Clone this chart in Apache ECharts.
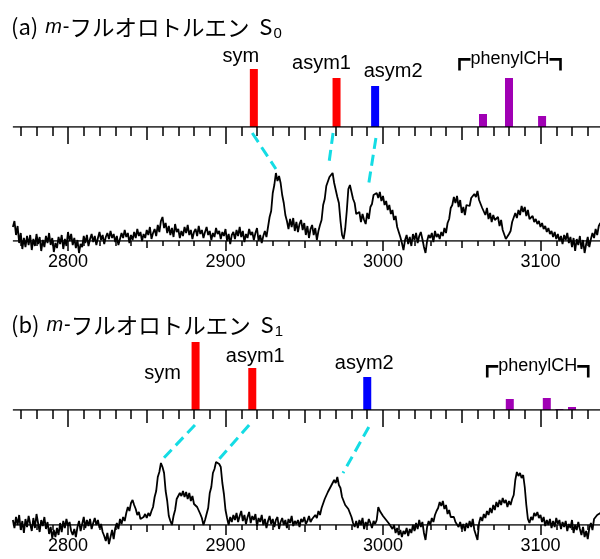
<!DOCTYPE html>
<html>
<head>
<meta charset="utf-8">
<script src="https://cdn.jsdelivr.net/npm/echarts@6/dist/echarts.min.js"></script>
<style>
html, body { margin: 0; padding: 0; background: #fff; }
#myChart { width: 600px; height: 559px; }
</style>
</head>
<body>
<div id="myChart"></div>
<script>
// wavenumber axis (cm-1), same for all four strips
const axisMin = 2700
const axisMax = 3200
const lineStart = 2765
const firstMinorTick = 2770
const specStart = 2765 // spectra below start here, one value per cm-1

// (a) S0 calculated sticks
const sticksAPos = [2918, 2970.5, 2995, 3063.5, 3080, 3101]
const sticksAInt = [58, 49, 41, 13, 49, 11]
const sticksAKind = ['sym', 'asym1', 'asym2', 'ph', 'ph', 'ph']
// (b) S1 calculated sticks
const sticksBPos = [2881, 2917, 2990, 3080.5, 3104, 3112, 3120]
const sticksBInt = [68, 42, 33, 11, 12, 1, 3]
const sticksBKind = ['sym', 'asym1', 'asym2', 'ph', 'ph', 'ph', 'ph']

// observed spectra (a) S0 and (b) S1, from 2765 cm-1
const specA = [
  14, 20, 6, 15, -2, 8, -8, 3, -6, 5,
  -4, 6, -9, 2, -5, 7, -3, 4, -10, 1,
  -6, 5, -2, 8, -4, 3, -11, -2, -7, 4,
  -3, 6, -8, 2, -5, 9, 0, 7, -4, 3,
  -7, 1, -12, -3, -6, 5, -2, 6, -5, 2,
  7, -1, 5, -4, 3, 9, 1, 6, -3, 4,
  8, 2, 10, 3, 7, -1, 5, -4, 2, 8,
  3, 11, 4, 8, -2, 6, 1, 9, 3, 12,
  5, 9, 0, 7, 3, 11, 6, 14, 2, 8,
  12, 5, 16, 9, 20, 24, 13, 18, 8, 15,
  6, 13, 4, 17, 9, 12, 3, 10, 5, 14,
  8, 16, 6, 11, 2, 9, 12, 5, 15, 7,
  11, 3, 9, 14, 6, 10, 1, 8, 4, 13,
  7, 10, 2, 9, 5, 12, 0, 7, -3, 6,
  9, 2, 11, 5, 14, 4, 10, -1, 7, 3,
  12, 6, 9, 1, 8, 13, 0, 6, -2, 5,
  10, 4, 14, 24, 30, 48, 56, 68, 60, 65,
  58, 46, 38, 26, 20, 12, 22, 14, 23, 10,
  19, 9, 17, 21, 11, 18, 6, 15, 3, 12,
  16, 6, 13, 1, 10, 16, 21, 36, 42, 55,
  57, 64, 62, 68, 58, 60, 44, 38, 20, 6,
  2, 12, 30, 52, 56, 58, 42, 38, 27, 26,
  29, 19, 27, 21, 17, 28, 22, 34, 37, 46,
  44, 48, 43, 49, 40, 45, 36, 40, 31, 36,
  27, 31, 21, 25, 14, 13, 4, -2, -9, 1,
  6, -3, 4, -5, 7, 1, 8, -2, 5, 9,
  2, -6, -12, 0, 6, 3, 8, -1, 10, 4,
  7, 2, 9, 5, 13, 8, 18, 22, 33, 36,
  44, 38, 45, 34, 41, 28, 34, 26, 36, 38,
  35, 43, 41, 47, 44, 50, 41, 39, 33, 31,
  26, 33, 22, 28, 19, 26, 21, 19, 24, 15,
  21, 11, 9, 2, 1, 7, 10, 19, 21, 28,
  23, 31, 26, 35, 29, 34, 25, 31, 22, 23,
  25, 19, 22, 17, 20, 14, 18, 12, 15, 9,
  13, 7, 10, 4, 9, 2, 7, 0, 5, -3,
  6, 1, 8, -2, 4, -6, 3, -10, 2, -4,
  5, -8, 1, -12, -3, 4, -6, 2, 8, 3,
  12, 6, 15, 18, 10, 14, 8, 12, 6, 10
]
const specB = [
  5, -3, 8, 0, 10, -5, 4, -8, 6, -2,
  9, 1, -6, 7, -3, 11, 2, -7, 5, -1,
  8, -4, 3, -9, -2, -13, -5, -12, -3, -10,
  2, -7, 4, -3, 6, -1, 3, -6, -10, -4,
  -12, -2, 4, -6, 1, 8, -3, 5, -1, 6,
  -4, 2, 7, 0, 5, -3, 1, -7, -11, -16,
  -8, -19, -12, -5, -14, -3, 2, -4, 6, 1,
  8, 4, 12, 18, 14, 22, 25, 20, 16, 10,
  13, 6, 4, 8, 11, 7, 12, 9, 14, 18,
  28, 34, 48, 53, 62, 58, 52, 34, 24, 9,
  4, 0, 9, 15, 26, 25, 32, 29, 34, 28,
  33, 26, 32, 24, 29, 21, 23, 18, 19, 11,
  7, 0, 5, 11, 17, 32, 38, 52, 56, 63,
  65, 61, 58, 42, 31, 15, 7, 0, 8, 3,
  10, 5, 12, 3, 9, 14, 4, 10, 1, 8,
  13, 2, 9, 5, 11, -1, 7, 3, 10, 0,
  6, -3, 4, 9, 1, 6, -2, 5, 8, -4,
  3, 7, 0, 5, -3, 6, 2, 9, -1, 4,
  1, 5, -2, 6, 3, 8, 1, 4, 9, 3,
  6, 4, 10, 7, 14, 10, 17, 19, 26, 25,
  33, 31, 39, 37, 45, 42, 48, 40, 37, 28,
  27, 20, 19, 16, 18, 8, 2, -2, 4, -3,
  5, 0, 7, -4, 3, -1, 6, 2, -3, 4,
  1, 5, 18, 14, 12, 9, 10, 5, 7, 1,
  3, -4, 0, -8, -3, -10, -5, -12, -6, -9,
  -3, -11, -4, -8, 0, -6, 2, -4, 5, -2,
  3, -8, -15, -2, 4, 0, 7, 3, 10, 14,
  17, 23, 19, 24, 16, 20, 11, 15, 8, 10,
  8, 3, 5, -2, 3, -4, 1, -6, 2, -3,
  4, -2, 6, -5, -10, -15, 2, 8, 4, 11,
  7, 14, 10, 17, 12, 20, 15, 23, 18, 25,
  20, 27, 22, 25, 18, 24, 20, 26, 30, 45,
  53, 49, 52, 47, 50, 38, 20, 6, 2, 8,
  5, 12, 9, 13, 7, 10, 3, 8, -1, 5,
  0, 6, -3, 4, -2, 7, 1, 5, -4, 3,
  -2, 4, -6, 1, -3, 5, -8, 0, -5, 3,
  -4, -10, -2, -12, -6, -14, -3, 2, -5, 6,
  4, 10, 8, 12, 7, 11, 5, 9, 3, 8
]

// assignment links: [stick cm-1, depth below stick axis, peak cm-1, peak height]
const linksA = [[2917, -6, 2932, 72], [2968.3, -6, 2965.6, 77], [2995.5, -11, 2990.5, 53]]
const linksB = [[2880.6, -15, 2858.4, 63], [2915, -15, 2896, 66], [2991, -17, 2974.6, 52]]

const kindColor = { sym: '#ff0000', asym1: '#ff0000', asym2: '#0000ff', ph: '#a000b4' }
const labelOffA = { sym: [-13, -3], asym1: [-15, -5], asym2: [18, -5], ph: [1, -8] }
const labelOffB = { sym: [-33, 41], asym1: [3, -2], asym2: [-3, -4], ph: [-9, -21] }

const latin = 'Liberation Sans'
const jp = 'Noto Sans CJK JP'

const minorTicks = []
for (let v = firstMinorTick; v <= axisMax; v += 10) minorTicks.push(v)

function makeBars(pos, ints, kinds, phIndex, offs) {
  return pos.map(function(p, i) {
    const k = kinds[i]
    const item = { value: [p, ints[i]], itemStyle: { color: kindColor[k] } }
    if (k !== 'ph' || i === phIndex) {
      item.label = {
        show: true,
        position: 'top',
        distance: 0,
        offset: offs[k],
        formatter: k === 'ph' ? '{b|┏}{t|phenylCH}{b|┓}' : k
      }
    }
    return item
  })
}

function tickAxes(gridIndex, lens, showLabel) {
  return [10, 50, 100].map(function(iv, j) {
    const tick = { show: true, length: lens[j], lineStyle: { color: '#000', width: 1.5 } }
    if (iv === 10) tick.customValues = minorTicks
    return {
      type: 'value',
      gridIndex: gridIndex,
      min: axisMin,
      max: axisMax,
      interval: iv,
      position: 'bottom',
      axisLine: { show: false, onZero: false },
      axisTick: tick,
      axisLabel: {
        show: showLabel && j === 2,
        margin: 12,
        color: '#000',
        fontSize: 18,
        fontFamily: latin,
        formatter: function(v) { return String(v) }
      },
      splitLine: { show: false }
    }
  })
}

function specData(vals) {
  return vals.map(function(v, i) { return [specStart + i, v] })
}

function axisLineSeries(xi, yi) {
  return {
    type: 'line',
    xAxisIndex: xi,
    yAxisIndex: yi,
    data: [[lineStart, 0], [axisMax, 0]],
    symbol: 'none',
    silent: true,
    z: 3,
    lineStyle: { color: '#000', width: 1.5 }
  }
}

const barLabelStyle = {
  color: '#000',
  fontSize: 20,
  fontFamily: latin,
  rich: {
    b: { fontFamily: jp, fontSize: 22, fontWeight: 'bold', color: '#000' },
    t: { fontFamily: latin, fontSize: 18, color: '#000' }
  }
}

function titleRich() {
  const base = { color: '#000', fontWeight: 'normal', lineHeight: 24 }
  return {
    p: Object.assign({ fontFamily: jp, fontSize: 22 }, base),
    i: Object.assign({ fontFamily: latin, fontSize: 20, padding: [0, 1, 0, 2] }, base, { fontStyle: 'italic' }),
    d: Object.assign({ fontFamily: latin, fontSize: 20 }, base),
    k: Object.assign({ fontFamily: jp, fontSize: 22.5 }, base),
    s: Object.assign({ fontFamily: latin, fontSize: 15, padding: [14, 0, 0, 1] }, base)
  }
}

const gridX = { left: -89.5, width: 787.5, outerBoundsMode: 'none', containLabel: false }
const chart = echarts.init(document.getElementById('myChart'))

chart.setOption({
  animation: false,
  backgroundColor: '#fff',
  title: [
    { left: 6, top: 10, text: '{p|(a) }{i|m}{d|-}{k|フルオロトルエン}{p|  S}{s|0}', textStyle: { fontWeight: 'normal', rich: titleRich() } },
    { left: 6, top: 308, text: '{p|(b) }{i|m}{d|-}{k|フルオロトルエン}{p|  S}{s|1}', textStyle: { fontWeight: 'normal', rich: titleRich() } }
  ],
  grid: [
    Object.assign({ top: 27, height: 100 }, gridX),
    Object.assign({ top: 141, height: 100 }, gridX),
    Object.assign({ top: 310, height: 100 }, gridX),
    Object.assign({ top: 425, height: 100 }, gridX)
  ],
  xAxis: [].concat(
    tickAxes(0, [9, 13, 17], false),
    tickAxes(1, [5, 7, 10], true),
    tickAxes(2, [9, 13, 17], false),
    tickAxes(3, [5, 7, 10], true)
  ),
  yAxis: [0, 1, 2, 3].map(function(g) {
    return { type: 'value', gridIndex: g, min: 0, max: 100, show: false }
  }),
  series: [
    {
      type: 'bar', xAxisIndex: 0, yAxisIndex: 0, barWidth: 8,
      label: barLabelStyle,
      data: makeBars(sticksAPos, sticksAInt, sticksAKind, 4, labelOffA)
    },
    axisLineSeries(0, 0),
    {
      type: 'line', xAxisIndex: 3, yAxisIndex: 1, symbol: 'none', clip: false,
      lineStyle: { color: '#000', width: 1.8 },
      data: specData(specA)
    },
    axisLineSeries(3, 1),
    {
      type: 'bar', xAxisIndex: 6, yAxisIndex: 2, barWidth: 8,
      label: barLabelStyle,
      data: makeBars(sticksBPos, sticksBInt, sticksBKind, 4, labelOffB)
    },
    axisLineSeries(6, 2),
    {
      type: 'line', xAxisIndex: 9, yAxisIndex: 3, symbol: 'none', clip: false,
      lineStyle: { color: '#000', width: 1.8 },
      data: specData(specB)
    },
    axisLineSeries(9, 3)
  ]
})

// dashed assignment lines span two grids, so place them from the axes' own scales
function linkGraphics(links, xTop, yTop, xBot, yBot) {
  return links.map(function(l) {
    const a = chart.convertToPixel({ xAxisIndex: xTop, yAxisIndex: yTop }, [l[0], l[1]])
    const b = chart.convertToPixel({ xAxisIndex: xBot, yAxisIndex: yBot }, [l[2], l[3]])
    return {
      type: 'line',
      shape: { x1: a[0], y1: a[1], x2: b[0], y2: b[1] },
      style: { stroke: '#14dce4', lineWidth: 3, lineDash: [11, 6] },
      z: 10
    }
  })
}

chart.setOption({
  graphic: [].concat(linkGraphics(linksA, 0, 0, 3, 1), linkGraphics(linksB, 6, 2, 9, 3))
})
</script>
</body>
</html>
